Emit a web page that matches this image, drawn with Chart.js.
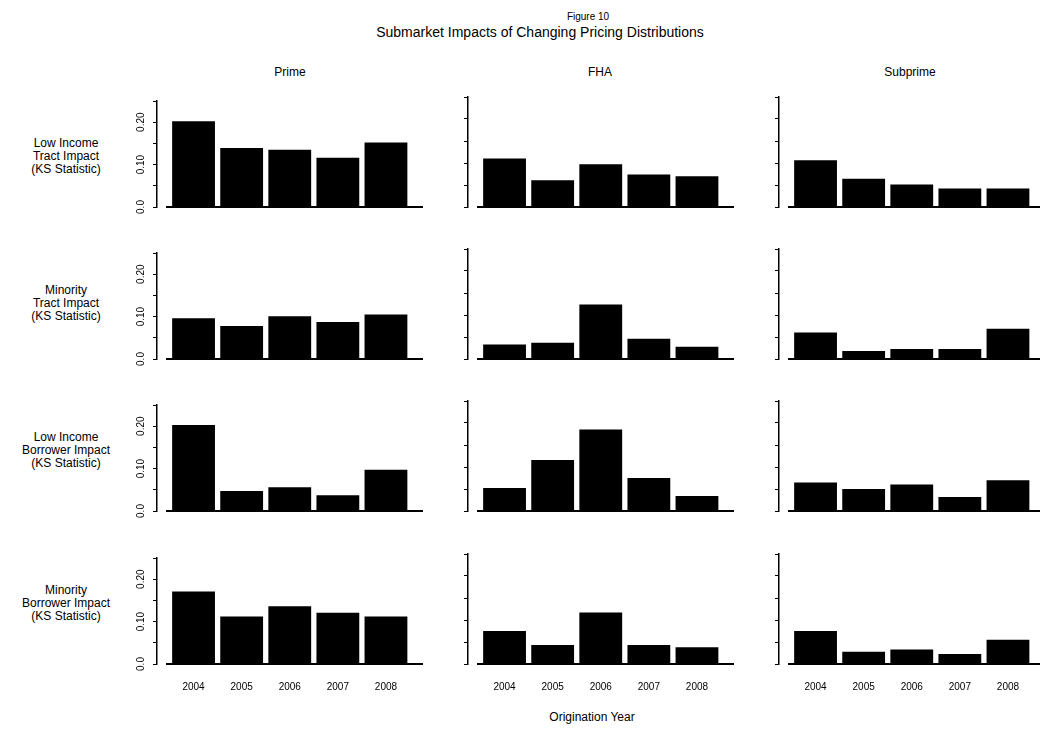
<!DOCTYPE html>
<html>
<head>
<meta charset="utf-8">
<script src="https://cdn.jsdelivr.net/npm/chart.js@4.4.1/dist/chart.umd.min.js"></script>
<style>
  html, body { margin: 0; padding: 0; background: #fff; overflow: hidden; }
  #fig { position: relative; width: 1040px; height: 733px; overflow: hidden;
         font-family: "Liberation Sans", Arial, sans-serif; color: #000; }
  .txt { position: absolute; white-space: nowrap; text-align: center;
         transform: translate(-50%, -50%); }
  #fig canvas { position: absolute; }
</style>
</head>
<body>
<div id="fig"></div>
<script>
/**************** DATA ****************/
const years = [2004, 2005, 2006, 2007, 2008];
const columnTitles = ["Prime", "FHA", "Subprime"];
const rowTitles = [
  ["Low Income", "Tract Impact", "(KS Statistic)"],
  ["Minority", "Tract Impact", "(KS Statistic)"],
  ["Low Income", "Borrower Impact", "(KS Statistic)"],
  ["Minority", "Borrower Impact", "(KS Statistic)"]
];
const yTicks = [0, 0.05, 0.10, 0.15, 0.20, 0.25];
const yTickLabels = ["0.0", "", "0.10", "", "0.20", ""];

// KS statistic, one array per panel
const lowIncomeTractPrime    = [0.202, 0.139, 0.135, 0.116, 0.152];
const lowIncomeTractFHA      = [0.110, 0.061, 0.097, 0.074, 0.070];
const lowIncomeTractSub      = [0.106, 0.064, 0.051, 0.042, 0.042];

const minorityTractPrime     = [0.096, 0.078, 0.101, 0.087, 0.105];
const minorityTractFHA       = [0.033, 0.037, 0.124, 0.046, 0.028];
const minorityTractSub       = [0.060, 0.018, 0.023, 0.023, 0.069];

const lowIncomeBorrowerPrime = [0.203, 0.047, 0.056, 0.037, 0.097];
const lowIncomeBorrowerFHA   = [0.052, 0.116, 0.185, 0.075, 0.034];
const lowIncomeBorrowerSub   = [0.065, 0.050, 0.060, 0.032, 0.070];

const minorityBorrowerPrime  = [0.171, 0.112, 0.136, 0.121, 0.112];
const minorityBorrowerFHA    = [0.075, 0.043, 0.117, 0.043, 0.038];
const minorityBorrowerSub    = [0.075, 0.028, 0.033, 0.023, 0.055];

const panels = [
  [lowIncomeTractPrime, lowIncomeTractFHA, lowIncomeTractSub],
  [minorityTractPrime, minorityTractFHA, minorityTractSub],
  [lowIncomeBorrowerPrime, lowIncomeBorrowerFHA, lowIncomeBorrowerSub],
  [minorityBorrowerPrime, minorityBorrowerFHA, minorityBorrowerSub]
];

/**************** LAYOUT ****************/
const colAxisX = [157, 468, 779];
const rowZeroY = [207, 359, 511, 664];
const AREA_W = 266, AREA_H = 110;
const YAXIS_W = 35, XAXIS_H = 40, PAD_TOP = 4;
const FONT = "'Liberation Sans', Arial, sans-serif";

const fig = document.getElementById("fig");

function addText(str, x, y, size) {
  const d = document.createElement("div");
  d.className = "txt";
  d.style.left = x + "px";
  d.style.top = y + "px";
  d.style.fontSize = size + "px";
  d.textContent = str;
  fig.appendChild(d);
  return d;
}

addText("Figure 10", 588, 16, 10);
addText("Submarket Impacts of Changing Pricing Distributions", 540, 32, 14);
addText("Origination Year", 592, 717, 12);

const colTitleX = [290, 600, 910];
columnTitles.forEach((t, i) => addText(t, colTitleX[i], 72, 12));

const rowTitleY = [156, 303, 450, 603];
rowTitles.forEach((lines, r) => {
  lines.forEach((l, k) => addText(l, 66, rowTitleY[r] + (k - 1) * 13, 12));
});

/**************** BASELINE (y = 0 line, R style) ****************/
const baseline = {
  id: "baseline",
  afterDatasetsDraw(chart) {
    const { ctx, chartArea, scales } = chart;
    const y0 = scales.y.getPixelForValue(0);
    ctx.save();
    ctx.strokeStyle = "#000";
    ctx.lineWidth = 2;
    ctx.beginPath();
    ctx.moveTo(chartArea.left + 9, y0);
    ctx.lineTo(chartArea.right, y0);
    ctx.stroke();
    ctx.restore();
  }
};

/**************** PANELS ****************/
function makePanel(r, c) {
  const cv = document.createElement("canvas");
  const w = YAXIS_W + AREA_W, h = PAD_TOP + AREA_H + XAXIS_H;
  cv.width = w; cv.height = h;
  cv.style.width = w + "px"; cv.style.height = h + "px";
  cv.style.left = (colAxisX[c] - YAXIS_W) + "px";
  cv.style.top = (rowZeroY[r] - AREA_H - PAD_TOP) + "px";
  fig.appendChild(cv);

  const showX = r === panels.length - 1;
  const showY = c === 0;
  const vals = panels[r][c];

  new Chart(cv, {
    type: "bar",
    data: {
      datasets: [{
        data: vals.map((v, i) => ({ x: years[i], y: v })),
        backgroundColor: "#000",
        borderWidth: 0,
        barPercentage: 0.89,
        categoryPercentage: 1
      }]
    },
    options: {
      responsive: false,
      animation: false,
      devicePixelRatio: 1,
      layout: { padding: { top: PAD_TOP, left: 0, right: 0, bottom: 0 } },
      plugins: { legend: { display: false }, tooltip: { enabled: false } },
      scales: {
        x: {
          type: "linear",
          offset: false,
          min: 2003.24,
          max: 2008.77,
          afterBuildTicks: s => { s.ticks = years.map(v => ({ value: v })); },
          afterFit: s => { s.height = XAXIS_H; },
          grid: { display: false, drawTicks: false },
          border: { display: false },
          ticks: {
            display: showX,
            maxRotation: 0,
            autoSkip: false,
            padding: 17,
            color: "#000",
            font: { family: FONT, size: 10 },
            callback: v => String(v)
          }
        },
        y: {
          min: 0,
          max: 0.25,
          afterBuildTicks: s => { s.ticks = yTicks.map(v => ({ value: v })); },
          afterFit: s => { s.width = YAXIS_W; },
          grid: { drawOnChartArea: false, drawTicks: true, tickLength: 4, color: "#000", lineWidth: 1 },
          border: { display: true, color: "#000", width: 1.5 },
          ticks: {
            display: showY,
            minRotation: 90,
            maxRotation: 90,
            crossAlign: "center",
            autoSkip: false,
            padding: 2,
            color: "#000",
            font: { family: FONT, size: 10 },
            callback: (v, i) => yTickLabels[i]
          }
        }
      }
    },
    plugins: [baseline]
  });
}

panels.forEach((row, r) => row.forEach((_, c) => makePanel(r, c)));
</script>
</body>
</html>
